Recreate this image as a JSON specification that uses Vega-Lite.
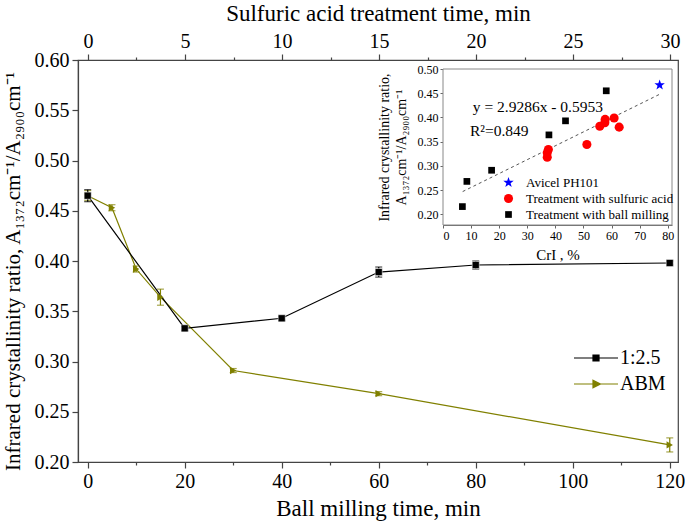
{
  "$schema": "https://vega.github.io/schema/vega-lite/v6.json",
  "width": 600,
  "height": 402,
  "autosize": "none",
  "padding": {"left": 78, "top": 60, "right": 7, "bottom": 65},
  "background": "white",
  "config": {
    "font": "Liberation Serif",
    "view": {"stroke": "#444", "strokeWidth": 1.2},
    "axis": {"grid": false, "domainColor": "#444", "tickColor": "#444", "labelColor": "#000", "titleColor": "#000", "labelFont": "Liberation Serif", "titleFont": "Liberation Serif", "titleFontWeight": "normal", "tickWidth": 1.2, "domainWidth": 1.2},
    "legend": {"labelFont": "Liberation Serif", "padding": 0}
  },
  "resolve": {"scale": {"x": "independent", "y": "independent", "color": "independent", "shape": "independent", "size": "independent"}},
  "layer": [
    {
      "data": {"values": [
        {"series": "ABM", "t": 0, "v": 0.465, "e": 0.005},
        {"series": "ABM", "t": 5, "v": 0.453, "e": 0.003},
        {"series": "ABM", "t": 10, "v": 0.392, "e": 0.003},
        {"series": "ABM", "t": 15, "v": 0.364, "e": 0.008},
        {"series": "ABM", "t": 30, "v": 0.291, "e": 0.002},
        {"series": "ABM", "t": 60, "v": 0.268, "e": 0.002},
        {"series": "ABM", "t": 120, "v": 0.217, "e": 0.007},
        {"series": "1:2.5", "t": 0, "v": 0.465, "e": 0.006},
        {"series": "1:2.5", "t": 20, "v": 0.333, "e": 0.002},
        {"series": "1:2.5", "t": 40, "v": 0.343, "e": 0.002},
        {"series": "1:2.5", "t": 60, "v": 0.389, "e": 0.005},
        {"series": "1:2.5", "t": 80, "v": 0.396, "e": 0.004},
        {"series": "1:2.5", "t": 120, "v": 0.398, "e": 0.002}
      ]},
      "layer": [
        {
          "mark": {"type": "line", "strokeWidth": 1.2},
          "encoding": {
            "x": {"field": "t", "type": "quantitative", "title": "Ball milling time, min", "scale": {"domain": [-2, 121.7], "nice": false, "zero": false},
              "axis": {"orient": "bottom", "values": [0, 10, 20, 30, 40, 50, 60, 70, 80, 90, 100, 110, 120],
                "labelExpr": "datum.value % 20 === 0 ? datum.label : ''",
                "tickSize": {"condition": {"test": "datum.value % 20 === 0", "value": 6}, "value": 3},
                "labelFontSize": 20, "labelPadding": 3, "titleFontSize": 23, "titlePadding": 6}},
            "y": {"field": "v", "type": "quantitative", "title": "Infrared crystallinity ratio, A₁₃₇₂cm⁻¹/A₂₉₀₀cm⁻¹", "scale": {"domain": [0.2, 0.6], "nice": false, "zero": false},
              "axis": {"orient": "left", "values": [0.2, 0.225, 0.25, 0.275, 0.3, 0.325, 0.35, 0.375, 0.4, 0.425, 0.45, 0.475, 0.5, 0.525, 0.55, 0.575, 0.6],
                "labelExpr": "round(datum.value*1000) % 50 === 0 ? format(datum.value, '.2f') : ''",
                "tickSize": {"condition": {"test": "round(datum.value*1000) % 50 === 0", "value": 6}, "value": 3},
                "labelFontSize": 20, "labelPadding": 3, "titleFontSize": 21, "titlePadding": 11, "titleY": 211}},
            "color": {"field": "series", "type": "nominal", "scale": {"domain": ["1:2.5", "ABM"], "range": ["#000000", "#808000"]},
              "legend": {"orient": "none", "legendX": 507, "legendY": 287, "title": null, "symbolSize": 400, "labelFont": "Liberation Serif", "labelFontSize": 20, "labelOffset": 13, "rowPadding": 5,
                "encode": {
                  "labels": {"update": {"font": {"value": "Liberation Serif"}, "fontSize": {"value": 20}}},
                  "symbols": {"update": {
                  "shape": {"signal": "datum.value === '1:2.5' ? 'M-2.2,0H2.2M-0.3,-0.3H0.3V0.3H-0.3Z' : 'M-2.2,0H2.2M-0.3,-0.38L0.45,0L-0.3,0.38Z'"},
                  "stroke": {"signal": "datum.value === '1:2.5' ? '#000000' : '#808000'"},
                  "fill": {"signal": "datum.value === '1:2.5' ? '#000000' : '#808000'"},
                  "opacity": {"value": 1},
                  "strokeWidth": {"value": 1.2}}}}}}
          }
        },
        {
          "mark": {"type": "errorbar", "ticks": {"size": 7}, "thickness": 1.2},
          "encoding": {
            "x": {"field": "t", "type": "quantitative", "title": "Ball milling time, min"},
            "y": {"field": "v", "type": "quantitative", "title": "Infrared crystallinity ratio, A₁₃₇₂cm⁻¹/A₂₉₀₀cm⁻¹"},
            "yError": {"field": "e"},
            "color": {"field": "series", "type": "nominal"}
          }
        },
        {
          "transform": [{"filter": "datum.series === 'ABM'"}],
          "mark": {"type": "point", "shape": "triangle-right", "filled": true, "opacity": 1, "size": 55},
          "encoding": {
            "x": {"field": "t", "type": "quantitative", "title": "Ball milling time, min"},
            "y": {"field": "v", "type": "quantitative", "title": "Infrared crystallinity ratio, A₁₃₇₂cm⁻¹/A₂₉₀₀cm⁻¹"},
            "color": {"field": "series", "type": "nominal"}
          }
        },
        {
          "transform": [{"filter": "datum.series === '1:2.5'"}],
          "mark": {"type": "point", "shape": "square", "filled": true, "opacity": 1, "size": 50, "stroke": "white", "strokeWidth": 0.5},
          "encoding": {
            "x": {"field": "t", "type": "quantitative", "title": "Ball milling time, min"},
            "y": {"field": "v", "type": "quantitative", "title": "Infrared crystallinity ratio, A₁₃₇₂cm⁻¹/A₂₉₀₀cm⁻¹"},
            "color": {"field": "series", "type": "nominal"}
          }
        }
      ]
    },
    {
      "data": {"values": [{}]},
      "mark": {"type": "rule", "strokeOpacity": 0},
      "encoding": {
        "x": {"datum": 0, "type": "quantitative", "scale": {"domain": [-0.515, 30.41], "nice": false, "zero": false},
          "axis": {"orient": "top", "values": [0, 2.5, 5, 7.5, 10, 12.5, 15, 17.5, 20, 22.5, 25, 27.5, 30],
            "labelExpr": "round(datum.value*10) % 50 === 0 ? format(datum.value, 'd') : ''",
            "tickSize": {"condition": {"test": "round(datum.value*10) % 50 === 0", "value": 6}, "value": 3},
            "labelFontSize": 20, "labelPadding": 3, "title": "Sulfuric acid treatment time, min", "titleFontSize": 23, "titlePadding": 6}}
      }
    },
    {
      "layer": [
        {
          "data": {"values": [{}]},
          "mark": {"type": "rect", "fill": "white", "stroke": "#888", "strokeWidth": 1},
          "encoding": {
            "x": {"datum": 0, "type": "quantitative", "scale": {"domain": [0, 81.5], "range": [365, 594], "nice": false, "zero": false},
              "axis": {"orient": "bottom", "offset": -237, "values": [0, 10, 20, 30, 40, 50, 60, 70, 80], "tickSize": 3, "labelFontSize": 12, "labelPadding": 2,
                "title": "CrI , %", "titleFontSize": 15, "titlePadding": 6, "domainColor": "#666", "tickColor": "#666", "domainWidth": 1, "tickWidth": 1}},
            "x2": {"datum": 81.5},
            "y": {"datum": 0.178, "type": "quantitative", "scale": {"domain": [0.178, 0.5], "range": [165, 9], "nice": false, "zero": false},
              "axis": {"orient": "left", "offset": -365, "values": [0.2, 0.25, 0.3, 0.35, 0.4, 0.45, 0.5], "format": ".2f", "tickSize": 3, "labelFontSize": 12, "labelPadding": 2,
                "title": ["Infrared crystallinity ratio,", "A₁₃₇₂cm⁻¹/A₂₉₀₀cm⁻¹"], "titleFontSize": 14, "titlePadding": 9, "titleLineHeight": 17, "domainColor": "#666", "tickColor": "#666", "domainWidth": 1, "tickWidth": 1}},
            "y2": {"datum": 0.5}
          }
        },
        {
          "data": {"values": [{"cri": 7, "ratio": 0.247}, {"cri": 77.5, "ratio": 0.449}]},
          "mark": {"type": "line", "color": "#555", "strokeWidth": 1, "strokeDash": [3, 3]},
          "encoding": {
            "x": {"field": "cri", "type": "quantitative"},
            "y": {"field": "ratio", "type": "quantitative"}
          }
        },
        {
          "data": {"values": [
            {"group": "Treatment with ball milling", "cri": 6.9, "ratio": 0.216},
            {"group": "Treatment with ball milling", "cri": 8.5, "ratio": 0.268},
            {"group": "Treatment with ball milling", "cri": 17.3, "ratio": 0.291},
            {"group": "Treatment with ball milling", "cri": 37.7, "ratio": 0.364},
            {"group": "Treatment with ball milling", "cri": 43.6, "ratio": 0.393},
            {"group": "Treatment with ball milling", "cri": 58.1, "ratio": 0.455},
            {"group": "Treatment with sulfuric acid", "cri": 37.1, "ratio": 0.318},
            {"group": "Treatment with sulfuric acid", "cri": 37.1, "ratio": 0.327},
            {"group": "Treatment with sulfuric acid", "cri": 37.5, "ratio": 0.334},
            {"group": "Treatment with sulfuric acid", "cri": 51.2, "ratio": 0.344},
            {"group": "Treatment with sulfuric acid", "cri": 55.8, "ratio": 0.382},
            {"group": "Treatment with sulfuric acid", "cri": 57.6, "ratio": 0.389},
            {"group": "Treatment with sulfuric acid", "cri": 57.7, "ratio": 0.396},
            {"group": "Treatment with sulfuric acid", "cri": 60.9, "ratio": 0.399},
            {"group": "Treatment with sulfuric acid", "cri": 62.7, "ratio": 0.380},
            {"group": "Avicel PH101", "cri": 77.1, "ratio": 0.467}
          ]},
          "mark": {"type": "point", "filled": true, "opacity": 1},
          "encoding": {
            "x": {"field": "cri", "type": "quantitative"},
            "y": {"field": "ratio", "type": "quantitative"},
            "color": {"field": "group", "type": "nominal",
              "scale": {"domain": ["Avicel PH101", "Treatment with sulfuric acid", "Treatment with ball milling"], "range": ["#0000ff", "#ff0000", "#000000"]},
              "legend": {"orient": "none", "legendX": 424, "legendY": 116, "title": null, "symbolSize": 70, "labelFontSize": 13, "labelOffset": 11, "rowPadding": 2}},
            "shape": {"field": "group", "type": "nominal",
              "scale": {"domain": ["Avicel PH101", "Treatment with sulfuric acid", "Treatment with ball milling"], "range": ["M0,-1L0.235,-0.324L0.951,-0.309L0.38,0.124L0.588,0.809L0,0.4L-0.588,0.809L-0.38,0.124L-0.951,-0.309L-0.235,-0.324Z", "circle", "square"]},
              "legend": {"orient": "none", "legendX": 424, "legendY": 116, "title": null, "symbolSize": 70, "labelFontSize": 13, "labelOffset": 11, "rowPadding": 2}},
            "size": {"field": "group", "type": "nominal",
              "scale": {"domain": ["Avicel PH101", "Treatment with sulfuric acid", "Treatment with ball milling"], "range": [120, 45, 42]}, "legend": null}
          }
        },
        {
          "data": {"values": [{}]},
          "mark": {"type": "text", "text": "y = 2.9286x - 0.5953", "align": "left", "baseline": "middle", "fontSize": 15.5, "font": "Liberation Serif"},
          "encoding": {
            "x": {"datum": 10.6, "type": "quantitative"},
            "y": {"datum": 0.421, "type": "quantitative"}
          }
        },
        {
          "data": {"values": [{}]},
          "mark": {"type": "text", "text": "R²=0.849", "align": "left", "baseline": "middle", "fontSize": 15.5, "font": "Liberation Serif"},
          "encoding": {
            "x": {"datum": 9.6, "type": "quantitative"},
            "y": {"datum": 0.373, "type": "quantitative"}
          }
        }
      ]
    }
  ]
}
